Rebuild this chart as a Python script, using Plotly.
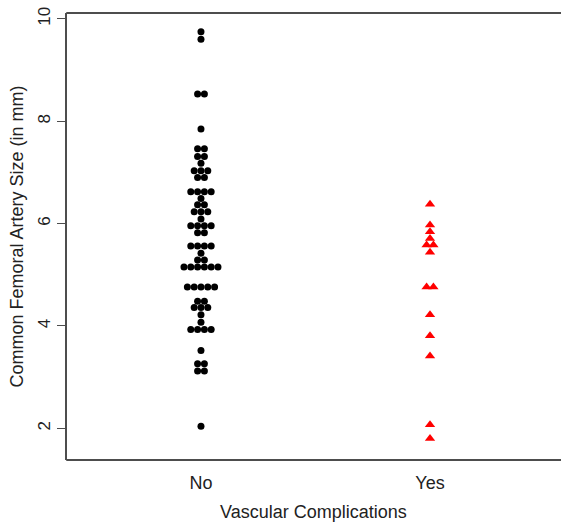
import plotly.graph_objects as go
from collections import Counter

# Data (Common Femoral Artery Size in mm)
categories = ["No", "Yes"]
no_values = [
    9.75, 9.60, 8.53, 8.53, 7.85,
    7.46, 7.46, 7.31, 7.31, 7.18, 7.03, 7.03, 7.03, 6.90, 6.90,
    6.62, 6.62, 6.62, 6.62, 6.49, 6.37, 6.37, 6.23, 6.23, 6.23, 6.09,
    5.96, 5.96, 5.96, 5.96, 5.82, 5.82,
    5.56, 5.56, 5.56, 5.56, 5.42, 5.29, 5.29,
    5.15, 5.15, 5.15, 5.15, 5.15, 5.15,
    4.76, 4.76, 4.76, 4.76, 4.76, 4.48, 4.48, 4.36, 4.36, 4.36,
    4.22, 4.07, 3.93, 3.93, 3.93, 3.93,
    3.52, 3.26, 3.26, 3.12, 3.12, 2.04,
]
yes_values = [
    6.38, 5.97, 5.84, 5.71, 5.58, 5.58, 5.44,
    4.76, 4.76, 4.22, 3.81, 3.41, 2.07, 1.80,
]
y_ticks = [2, 4, 6, 8, 10]

DX = 0.0297  # horizontal spacing between stacked points (x data units)


def swarm(values, center):
    counts = Counter(values)
    seen = Counter()
    xs = []
    for v in values:
        n = counts[v]
        i = seen[v]
        seen[v] += 1
        xs.append(center + (i - (n - 1) / 2) * DX)
    return xs


x_no = swarm(no_values, 1)
x_yes = swarm(yes_values, 2)

fig = go.Figure()
fig.add_trace(go.Scatter(
    x=x_no, y=no_values, mode="markers",
    marker=dict(symbol="circle", size=7, color="black", line=dict(width=0)),
    showlegend=False, hoverinfo="y",
))
fig.add_trace(go.Scatter(
    x=x_yes, y=yes_values, mode="markers",
    marker=dict(symbol="triangle-up", size=9, color="#ff0000", line=dict(width=0)),
    showlegend=False, hoverinfo="y",
))

axis_col = "#4d4d4d"
font_fam = "Liberation Sans, Arial, sans-serif"

fig.update_layout(
    width=561, height=523,
    margin=dict(l=67, r=0, t=13, b=63),
    paper_bgcolor="white", plot_bgcolor="white",
    font=dict(family=font_fam, size=18, color="#222222"),
    xaxis=dict(
        range=[0.415, 2.572], tickvals=[1, 2], ticktext=categories,
        showgrid=False, zeroline=False,
        showline=False,
        ticks="outside", ticklen=6, tickcolor="rgba(0,0,0,0)",
        tickfont=dict(size=18, family=font_fam, color="#222222"),
    ),
    yaxis=dict(
        range=[1.38, 10.115], tickvals=y_ticks,
        showgrid=False, zeroline=False,
        showline=True, linecolor=axis_col, linewidth=1.5, mirror=False,
        ticks="outside", ticklen=8, tickcolor=axis_col, tickwidth=1,
        tickangle=-90,
        tickfont=dict(size=17, family=font_fam, color="#222222"),
    ),
    shapes=[
        dict(type="line", xref="paper", yref="paper", x0=-0.0015, x1=1.05, y0=0, y1=0,
             line=dict(color=axis_col, width=2)),
        dict(type="line", xref="paper", yref="paper", x0=-0.0015, x1=1.05, y0=1, y1=1,
             line=dict(color=axis_col, width=2)),
    ],
    annotations=[
        dict(text="Common Femoral Artery Size (in mm)", xref="paper", yref="paper",
             x=-0.1032, y=0.5, xanchor="center", yanchor="middle", textangle=-90,
             showarrow=False, font=dict(size=18, family=font_fam, color="#222222")),
        dict(text="Vascular Complications", xref="paper", yref="paper",
             x=0.4995, y=-0.1163, xanchor="center", yanchor="middle",
             showarrow=False, font=dict(size=18, family=font_fam, color="#222222")),
    ],
)

fig.write_html(
    "out.html",
    config={"displayModeBar": False},
    post_script=(
        "document.body.style.margin='0';"
        "document.body.style.overflow='hidden';"
        "document.documentElement.style.overflow='hidden';"
    ),
)
